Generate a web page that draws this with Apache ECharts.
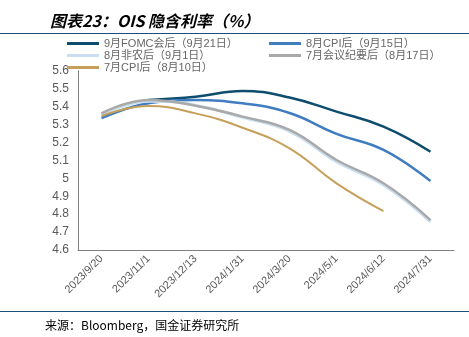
<!DOCTYPE html>
<html>
<head>
<meta charset="utf-8">
<script src="https://cdn.jsdelivr.net/npm/echarts@6/dist/echarts.min.js"></script>
<style>
  html, body { margin: 0; padding: 0; background: #fff; }
  #chart { width: 469px; height: 337px; }
</style>
</head>
<body>
<div id="chart"></div>
<script>
// FOMC meeting dates on the x axis
const categories = ['2023/9/20', '2023/11/1', '2023/12/13', '2024/1/31', '2024/3/20', '2024/5/1', '2024/6/12', '2024/7/31'];

// OIS-implied policy rate (%) at each meeting, by observation date
const fomcSep = [null, 5.437, 5.455, 5.487, 5.450, 5.372, 5.288, 5.148];
const cpiAug = [5.335, 5.418, 5.436, 5.418, 5.364, 5.248, 5.158, 4.985];
const nfpAug = [5.352, 5.430, 5.408, 5.340, 5.262, 5.092, 4.962, 4.757];
const minutesJul = [5.362, 5.437, 5.405, 5.344, 5.270, 5.102, 4.972, 4.767];
const cpiJul = [5.347, 5.403, 5.362, 5.282, 5.167, 4.972, 4.817, null];

const seriesNames = ['9月FOMC会后（9月21日）', '8月CPI后（9月15日）', '8月非农后（9月1日）', '7月会议纪要后（8月17日）', '7月CPI后（8月10日）'];

const yTicks = { min: 4.6, max: 5.6, step: 0.1 };

const chart = echarts.init(document.getElementById('chart'));

function line(name, data, color, width, z) {
  return {
    name, type: 'line', data, smooth: 0.45, showSymbol: false, symbol: 'none',
    lineStyle: { color, width }, itemStyle: { color }, z
  };
}

const legendText = { color: '#666666', fontSize: 11, lineHeight: 12, fontFamily: 'Liberation Sans, Noto Sans CJK SC, sans-serif' };

chart.setOption({
  animation: false,
  backgroundColor: '#ffffff',
  title: {
    text: '图表23：OIS 隐含利率（%）',
    left: 45, top: 8,
    textStyle: { fontSize: 16, fontWeight: 'bold', fontStyle: 'italic', color: '#000', fontFamily: 'Noto Sans CJK SC, sans-serif' }
  },
  legend: [
    {
      data: [seriesNames[0], seriesNames[2], seriesNames[4]],
      orient: 'vertical', left: 67, top: 37.5, itemWidth: 32, itemHeight: 3, itemGap: 0,
      textStyle: legendText, icon: 'rect', selectedMode: false, padding: 0
    },
    {
      data: [seriesNames[1], seriesNames[3]],
      orient: 'vertical', left: 269, top: 37.5, itemWidth: 32, itemHeight: 3, itemGap: 0,
      textStyle: legendText, icon: 'rect', selectedMode: false, padding: 0
    }
  ],
  grid: { left: 78, right: 15, top: 70.7, bottom: 87 },
  xAxis: {
    type: 'category', data: categories, boundaryGap: true,
    axisLine: { lineStyle: { color: '#808080', width: 1 } },
    axisTick: { inside: true, length: 3, lineStyle: { color: '#808080' } },
    axisLabel: { rotate: 45, color: '#595959', fontSize: 11, margin: 7, fontFamily: 'Liberation Sans, sans-serif' },
    splitLine: { show: false }
  },
  yAxis: {
    type: 'value', min: yTicks.min, max: yTicks.max, interval: yTicks.step,
    axisLine: { show: true, lineStyle: { color: '#808080', width: 1 } },
    axisTick: { show: false },
    axisLabel: { color: '#595959', fontSize: 12, margin: 9, fontFamily: 'Liberation Sans, sans-serif',
      formatter: v => String(parseFloat(v.toFixed(1))) },
    splitLine: { show: false }
  },
  series: [
    line(seriesNames[0], fomcSep, '#0e4d6e', 2.5, 1),
    line(seriesNames[1], cpiAug, '#3f7cc0', 2.5, 2),
    line(seriesNames[2], nfpAug, '#c9dff1', 3, 3),
    line(seriesNames[3], minutesJul, '#a9a9a9', 2.5, 4),
    line(seriesNames[4], cpiJul, '#c6a05a', 2, 5)
  ],
  graphic: [
    { type: 'line', shape: { x1: 0, y1: 33.5, x2: 469, y2: 33.5 }, style: { stroke: '#1d4e74', lineWidth: 1.2 } },
    { type: 'line', shape: { x1: 0, y1: 311.5, x2: 469, y2: 311.5 }, style: { stroke: '#1d4e74', lineWidth: 1.2 } },
    { type: 'text', left: 45, top: 319,
      style: { text: '来源：Bloomberg，国金证券研究所', fill: '#000', fontSize: 12, fontFamily: 'Noto Sans CJK SC, sans-serif' } }
  ]
});
</script>
</body>
</html>
